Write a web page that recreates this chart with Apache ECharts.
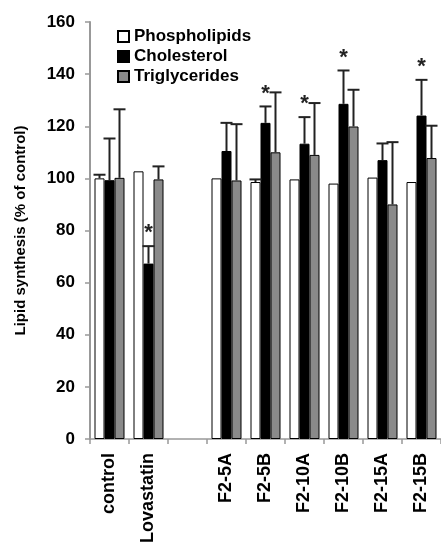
<!DOCTYPE html>
<html>
<head>
<meta charset="utf-8">
<script src="https://cdn.jsdelivr.net/npm/echarts@6/dist/echarts.min.js"></script>
<style>html,body{margin:0;padding:0;background:#fff;}#chart{width:441px;height:548px;}</style>
</head>
<body>
<div id="chart"></div>
<script>
const categories = ['control', 'Lovastatin', '', 'F2-5A', 'F2-5B', 'F2-10A', 'F2-10B', 'F2-15A', 'F2-15B'];
const seriesNames = ['Phospholipids', 'Cholesterol', 'Triglycerides'];
const phospholipids = [100, 102.7, '-', 100, 98.6, 99.6, 98, 100.3, 98.6];
const phospholipidsErr = [101.4, 102.7, '-', 100, 99.6, 99.6, 98, 100.3, 98.6];
const cholesterol = [99.3, 67.3, '-', 110.5, 121.3, 113.3, 128.6, 107, 124.1];
const cholesterolErr = [115.3, 74, '-', 121.3, 127.6, 123.5, 141.4, 113.4, 137.8];
const triglycerides = [100.2, 99.6, '-', 99.2, 110, 109, 119.9, 90, 107.8];
const triglyceridesErr = [126.5, 104.6, '-', 120.8, 133, 128.9, 134, 113.9, 120.2];
const cholesterolSignificant = [false, true, false, false, true, true, true, false, true];
const yTicks = [0, 20, 40, 60, 80, 100, 120, 140, 160];

const BAR_W = 10;
const values = [phospholipids, cholesterol, triglycerides];
const errs = [phospholipidsErr, cholesterolErr, triglyceridesErr];
const fills = ['#ffffff', '#000000', '#8a8a8a'];

const errData = [];
values.forEach((arr, s) => {
  arr.forEach((v, i) => {
    if (v === '-') return;
    const e = errs[s][i];
    if (e > v) errData.push([i, s, v, e, cholesterolSignificant[i] && s === 1 ? 1 : 0]);
    else if (s === 1 && cholesterolSignificant[i]) errData.push([i, s, v, v, 1]);
  });
});

const chart = echarts.init(document.getElementById('chart'));
const font = 'Liberation Sans, Arial, sans-serif';
chart.setOption({
  animation: false,
  backgroundColor: '#fff',
  grid: { left: 90, right: 0, top: 22, bottom: 109, containLabel: false },
  legend: {
    orient: 'vertical', left: 112, top: 23, itemWidth: 11, itemHeight: 11, itemGap: 3,
    icon: 'rect',
    data: seriesNames,
    textStyle: { fontFamily: font, fontWeight: 'bold', fontSize: 17, color: '#000' }
  },
  xAxis: {
    type: 'category', data: categories,
    axisLine: { lineStyle: { color: '#999', width: 1.5 } },
    axisTick: { show: true, length: 5, interval: 0, lineStyle: { color: '#999', width: 1.5 } },
    axisLabel: { interval: 0, rotate: 90, margin: 14, fontFamily: font, fontWeight: 'bold', fontSize: 18, color: '#000' }
  },
  yAxis: {
    type: 'value', min: yTicks[0], max: yTicks[yTicks.length - 1], interval: 20,
    name: 'Lipid synthesis (% of control)', nameLocation: 'middle', nameRotate: 90, nameGap: 62,
    nameTextStyle: { fontFamily: font, fontWeight: 'bold', fontSize: 15, color: '#000' },
    axisLine: { show: true, lineStyle: { color: '#999', width: 2 } },
    axisTick: { show: true, length: 5, lineStyle: { color: '#999', width: 1.5 } },
    splitLine: { show: false },
    axisLabel: { margin: 15, fontFamily: font, fontWeight: 'bold', fontSize: 17, color: '#000' }
  },
  series: values.map((arr, s) => ({
    name: seriesNames[s], type: 'bar', data: arr, barWidth: BAR_W, barGap: '0%',
    itemStyle: { color: fills[s], borderColor: '#000', borderWidth: 1 },
    z: 2
  })).concat([{
    type: 'custom', data: errData, encode: { x: 0, y: 3 }, z: 5, silent: true,
    renderItem: function (params, api) {
      const i = api.value(0), s = api.value(1);
      const base = api.coord([i, api.value(2)]);
      const top = api.coord([i, api.value(3)]);
      const x = base[0] + (s - 1) * BAR_W;
      const children = [];
      if (api.value(3) > api.value(2)) {
        children.push({ type: 'line', shape: { x1: x, y1: base[1], x2: x, y2: top[1] }, style: { stroke: '#222', lineWidth: 2 } });
        children.push({ type: 'line', shape: { x1: x - 6, y1: top[1], x2: x + 6, y2: top[1] }, style: { stroke: '#222', lineWidth: 2 } });
      }
      if (api.value(4) === 1) {
        children.push({ type: 'text', style: { text: '*', x: x, y: top[1] - 2, align: 'center', verticalAlign: 'bottom', font: 'bold 22px Liberation Sans, Arial, sans-serif', fill: '#222' } });
      }
      return { type: 'group', children: children };
    }
  }])
});
</script>
</body>
</html>
